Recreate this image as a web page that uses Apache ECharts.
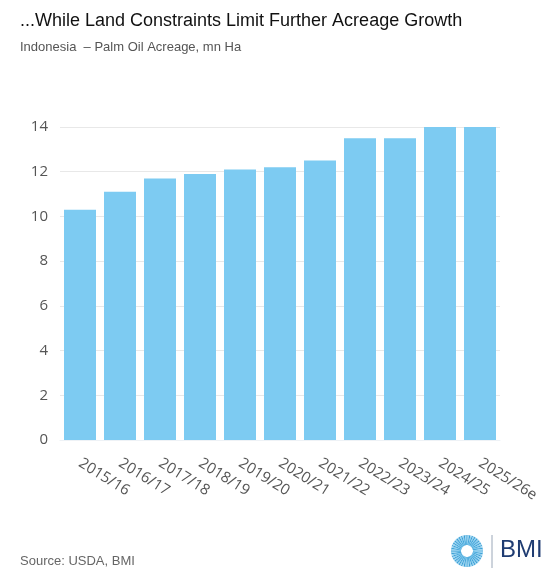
<!DOCTYPE html>
<html>
<head>
<meta charset="utf-8">
<script src="https://cdn.jsdelivr.net/npm/echarts@6/dist/echarts.min.js"></script>
<style>
  html, body { margin: 0; padding: 0; background: #fff; }
  #main { width: 560px; height: 582px; }
</style>
</head>
<body>
<div id="main"></div>
<script>
// marketing years, last one is an estimate
var years = ['2015/16', '2016/17', '2017/18', '2018/19', '2019/20', '2020/21',
             '2021/22', '2022/23', '2023/24', '2024/25', '2025/26e'];
// palm oil acreage, mn Ha
var acreage = [10.3, 11.1, 11.7, 11.9, 12.1, 12.2, 12.5, 13.5, 13.5, 14.0, 14.0];
var yTicks = [0, 2, 4, 6, 8, 10, 12, 14];

// BMI logo: radial rays round a hole
var logoRays = [];
for (var i = 0; i < 72; i++) {
    var a = i / 72 * Math.PI * 2;
    logoRays.push({
        type: 'line',
        shape: {
            x1: 467 + Math.cos(a) * 6, y1: 551 + Math.sin(a) * 6,
            x2: 467 + Math.cos(a) * 16, y2: 551 + Math.sin(a) * 16
        },
        style: { stroke: i % 2 ? '#8fd0f0' : '#3a9fd6', lineWidth: 1.2 },
        silent: true
    });
}

var option = {
    backgroundColor: '#fff',
    animation: false,
    title: [
        {
            text: '...While Land Constraints Limit Further Acreage Growth',
            left: 15, top: 7,
            textStyle: { fontFamily: 'Liberation Sans, Arial', fontSize: 18, fontWeight: 'normal', color: '#111' }
        },
        {
            text: 'Indonesia  \u2013 Palm Oil Acreage, mn Ha',
            left: 15, top: 36,
            textStyle: { fontFamily: 'Liberation Sans, Arial', fontSize: 13, fontWeight: 'normal', color: '#555' }
        },
        {
            text: 'Source: USDA, BMI',
            left: 15, top: 550,
            textStyle: { fontFamily: 'Liberation Sans, Arial', fontSize: 13, fontWeight: 'normal', color: '#666' }
        }
    ],
    grid: { left: 60, right: 60, top: 127, bottom: 142 },
    xAxis: {
        type: 'category',
        data: years,
        axisTick: { show: false },
        axisLine: { lineStyle: { color: '#eef2f6', width: 1 } },
        axisLabel: {
            rotate: -32,
            margin: 22,
            fontFamily: 'Open Sans',
            fontSize: 15,
            color: '#555'
        }
    },
    yAxis: {
        type: 'value',
        min: yTicks[0],
        max: yTicks[yTicks.length - 1],
        interval: 2,
        axisLine: { show: false },
        axisTick: { show: false },
        splitLine: { lineStyle: { color: '#e8e8e8' } },
        axisLabel: { margin: 12, fontFamily: 'Open Sans', fontSize: 15, color: '#555' }
    },
    series: [
        {
            name: 'Palm Oil Acreage',
            type: 'bar',
            data: acreage,
            barCategoryGap: '20%',
            itemStyle: { color: '#7dcbf2' }
        }
    ],
    graphic: logoRays.concat([
        {
            type: 'line',
            shape: { x1: 492, y1: 535, x2: 492, y2: 568 },
            style: { stroke: '#9aa7b8', lineWidth: 1 },
            silent: true
        },
        {
            type: 'text',
            left: 500, top: 538,
            style: { text: 'BMI', fontFamily: 'Liberation Sans, Arial', fontSize: 24, fill: '#1f3c72' },
            silent: true
        }
    ])
};

var chart = echarts.init(document.getElementById('main'));
chart.setOption(option);
</script>
</body>
</html>
